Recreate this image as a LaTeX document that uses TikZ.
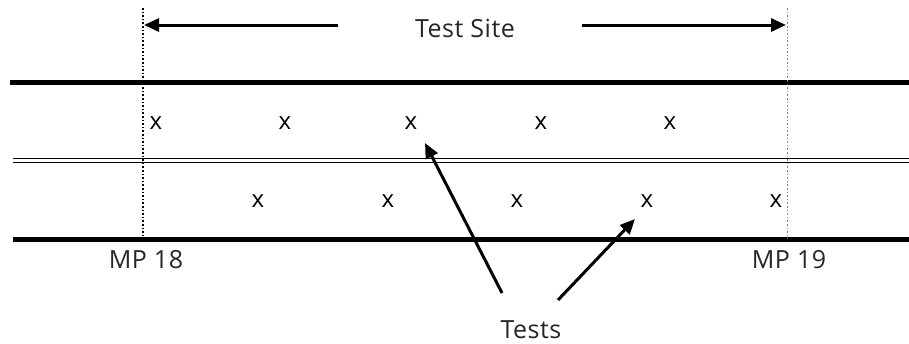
\documentclass[tikz,border=0pt]{standalone}
\usepackage{fontspec}
\setmainfont{Open Sans}[LetterSpace=2]
\usetikzlibrary{arrows.meta}
\begin{document}
\begin{tikzpicture}[x=1pt,y=-1pt,
  road/.style={line width=5pt},
  thin/.style={line width=1.4pt},
  lbl/.style={inner sep=0pt,anchor=base,text=black!85,font=\fontsize{25}{28}\selectfont},
  xmark/.style={inner sep=0pt,font=\fontsize{24}{28}\selectfont},
  arr/.style={line width=3pt,-{Triangle[length=15pt,width=13pt]}},
  dotv/.style={line width=1.6pt,dotted}
]
\useasboundingbox (0,0) rectangle (909,343);
% road lines
\coordinate (t1) at (10,82.5);   \coordinate (t2) at (909,82.5);
\coordinate (m1a) at (13,158.3); \coordinate (m2a) at (909,158.3);
\coordinate (m1b) at (13,162.7); \coordinate (m2b) at (909,162.7);
\coordinate (b1) at (13,239);    \coordinate (b2) at (909,239);
\draw[road] (t1) -- (t2);
\draw[thin] (m1a) -- (m2a);
\draw[thin] (m1b) -- (m2b);
\draw[road] (b1) -- (b2);
% site limits
\coordinate (l1) at (142.7,8); \coordinate (l2) at (142.7,239);
\coordinate (r1) at (787.7,8); \coordinate (r2) at (787.7,239);
\draw[dotv] (l1) -- (l2);
\draw[dotv,gray,line width=1.2pt] (r1) -- (r2);
% test site label and arrows
\node[lbl] (site) at (465,37) {Test Site};
\coordinate (la) at (338,25); \coordinate (lt) at (144,25);
\coordinate (ra) at (582,25); \coordinate (rt) at (786,25);
\draw[arr] (la) -- (lt);
\draw[arr] (ra) -- (rt);
% x marks
\node[xmark] (a1) at (156,123) {x};
\node[xmark] (a2) at (285,123) {x};
\node[xmark] (a3) at (411,123) {x};
\node[xmark] (a4) at (541,123) {x};
\node[xmark] (a5) at (670,123) {x};
\node[xmark] (c1) at (258,201) {x};
\node[xmark] (c2) at (388,201) {x};
\node[xmark] (c3) at (517,201) {x};
\node[xmark] (c4) at (647,201) {x};
\node[xmark] (c5) at (776,201) {x};
% milepost labels
\node[lbl] (mp18) at (146,268) {MP 18};
\node[lbl] (mp19) at (789,268) {MP 19};
% tests
\node[lbl] (tests) at (531,338) {Tests};
\coordinate (s1) at (502,293); \coordinate (e1) at (425,143);
\coordinate (s2) at (558,300); \coordinate (e2) at (635,219);
\draw[arr] (s1) -- (e1);
\draw[arr] (s2) -- (e2);
\end{tikzpicture}
\end{document}
